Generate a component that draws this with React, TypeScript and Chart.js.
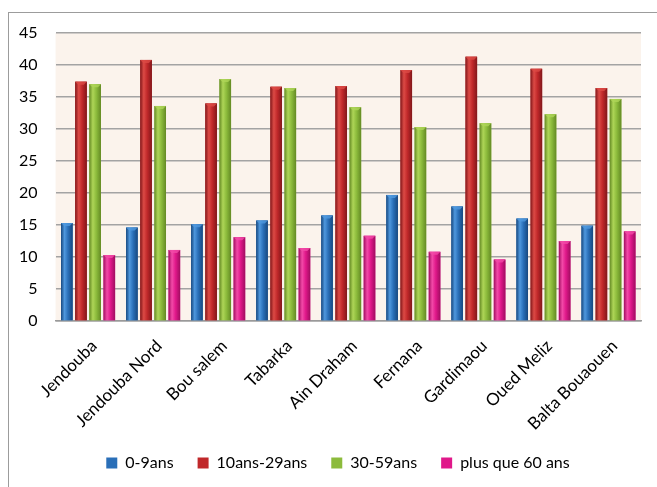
import React, { useEffect, useRef } from "react";
import { Chart, registerables } from "chart.js";

Chart.register(...registerables);

const categories = [
  "Jendouba",
  "Jendouba Nord",
  "Bou salem",
  "Tabarka",
  "Ain Draham",
  "Fernana",
  "Gardimaou",
  "Oued Meliz",
  "Balta Bouaouen",
];

const seriesNames = ["0-9ans", "10ans-29ans", "30-59ans", "plus que 60 ans"];

const age0to9 = [15.3, 14.6, 15.1, 15.7, 16.5, 19.7, 17.9, 16.0, 14.9];
const age10to29 = [37.4, 40.8, 34.0, 36.6, 36.7, 39.2, 41.3, 39.4, 36.4];
const age30to59 = [37.0, 33.6, 37.8, 36.4, 33.4, 30.3, 30.9, 32.3, 34.7];
const age60plus = [10.3, 11.1, 13.1, 11.4, 13.3, 10.8, 9.6, 12.5, 14.0];

const yTicks = [0, 5, 10, 15, 20, 25, 30, 35, 40, 45];

// base / highlight / shadow tones for each series
const palette = [
  { base: "#2a6fb8", light: "#4f98de", dark: "#17487f" },
  { base: "#c0282a", light: "#dc4a45", dark: "#82171a" },
  { base: "#8cbb3c", light: "#aed557", dark: "#648a24" },
  { base: "#e0188a", light: "#f24aa8", dark: "#a00d60" },
];

const FONT = "Lato, 'Open Sans', sans-serif";
const Y_LABEL_GAP = 18;
const X_LABEL_GAP = 7;

// beige plot background
const plotBackground = {
  id: "plotBackground",
  beforeDraw(chart: any) {
    const { ctx, chartArea } = chart;
    ctx.save();
    ctx.fillStyle = "#fbf3ec";
    ctx.fillRect(
      chartArea.left,
      chartArea.top,
      chartArea.right - chartArea.left,
      chartArea.bottom - chartArea.top
    );
    ctx.restore();
  },
};

// cylinder-like shading painted over each bar
const barShading = {
  id: "barShading",
  afterDatasetsDraw(chart: any) {
    const { ctx } = chart;
    chart.data.datasets.forEach((_ds: any, di: number) => {
      const meta = chart.getDatasetMeta(di);
      const tone = palette[di];
      meta.data.forEach((el: any) => {
        const { x, y, base, width } = el.getProps(["x", "y", "base", "width"], true);
        const left = x - width / 2;
        const g = ctx.createLinearGradient(left, 0, left + width, 0);
        g.addColorStop(0, tone.dark);
        g.addColorStop(0.3, tone.light);
        g.addColorStop(0.6, tone.base);
        g.addColorStop(1, tone.dark);
        ctx.save();
        ctx.fillStyle = g;
        ctx.fillRect(left, y, width, base - y);
        // bevelled top cap
        ctx.fillStyle = tone.light;
        ctx.globalAlpha = 0.8;
        ctx.beginPath();
        ctx.moveTo(left, y);
        ctx.lineTo(left + width, y);
        ctx.lineTo(left + width - 3, y + 3);
        ctx.lineTo(left + 3, y + 3);
        ctx.closePath();
        ctx.fill();
        ctx.restore();
      });
    });
  },
};

export default function App() {
  const canvasRef = useRef<HTMLCanvasElement | null>(null);

  useEffect(() => {
    if (!canvasRef.current) return;
    const seriesValues = [age0to9, age10to29, age30to59, age60plus];
    const chart = new Chart(canvasRef.current, {
      type: "bar",
      data: {
        labels: categories,
        datasets: seriesNames.map((name, i) => ({
          label: name,
          data: seriesValues[i],
          backgroundColor: palette[i].base,
          borderWidth: 0,
          categoryPercentage: 0.87,
          barPercentage: 0.82,
        })),
      },
      options: {
        responsive: false,
        animation: false,
        layout: { padding: { left: 10, right: 0, top: 20, bottom: 6 } },
        plugins: {
          tooltip: { enabled: false },
          legend: {
            position: "bottom",
            labels: {
              boxWidth: 11,
              boxHeight: 11,
              padding: 24,
              color: "#000",
              font: { family: FONT, size: 16 },
            },
          },
        },
        scales: {
          x: {
            grid: { display: false },
            border: { display: true, color: "#9a9a9a", width: 1.5 },
            afterFit: (scale: any) => {
              // let the first rotated label run into the margin; keep a right gutter
              scale.paddingLeft = 0;
              scale.paddingRight = 16;
              // the gap is counted above and below the labels; keep a small one below
              scale.height -= 2 * X_LABEL_GAP - 4;
            },
            ticks: {
              color: "#000",
              font: { family: FONT, size: 17 },
              minRotation: 45,
              maxRotation: 45,
              padding: X_LABEL_GAP,
              labelOffset: 6,
            },
          },
          y: {
            min: 0,
            max: 45,
            afterBuildTicks: (axis: any) => {
              axis.ticks = yTicks.map((v) => ({ value: v }));
            },
            afterFit: (scale: any) => {
              // tick padding is counted on both sides of the labels; keep only one gap
              scale.width -= Y_LABEL_GAP;
              scale.paddingTop = 0;
              scale.paddingBottom = 0;
            },
            grid: { color: "#a3a3a3", lineWidth: 1.5, drawTicks: false },
            border: { display: false },
            ticks: {
              color: "#000",
              font: { family: FONT, size: 16 },
              padding: Y_LABEL_GAP,
            },
          },
        },
      },
      plugins: [plotBackground, barShading],
    });
    return () => chart.destroy();
  }, []);

  return (
    <div
      style={{
        position: "absolute",
        left: 8,
        top: 12,
        width: 649,
        height: 475,
        boxSizing: "border-box",
        borderLeft: "1px solid #9c9c9c",
        borderTop: "1px solid #9c9c9c",
        background: "#fff",
        overflow: "hidden",
      }}
    >
      <canvas ref={canvasRef} width={648} height={474} style={{ display: "block" }} />
    </div>
  );
}
